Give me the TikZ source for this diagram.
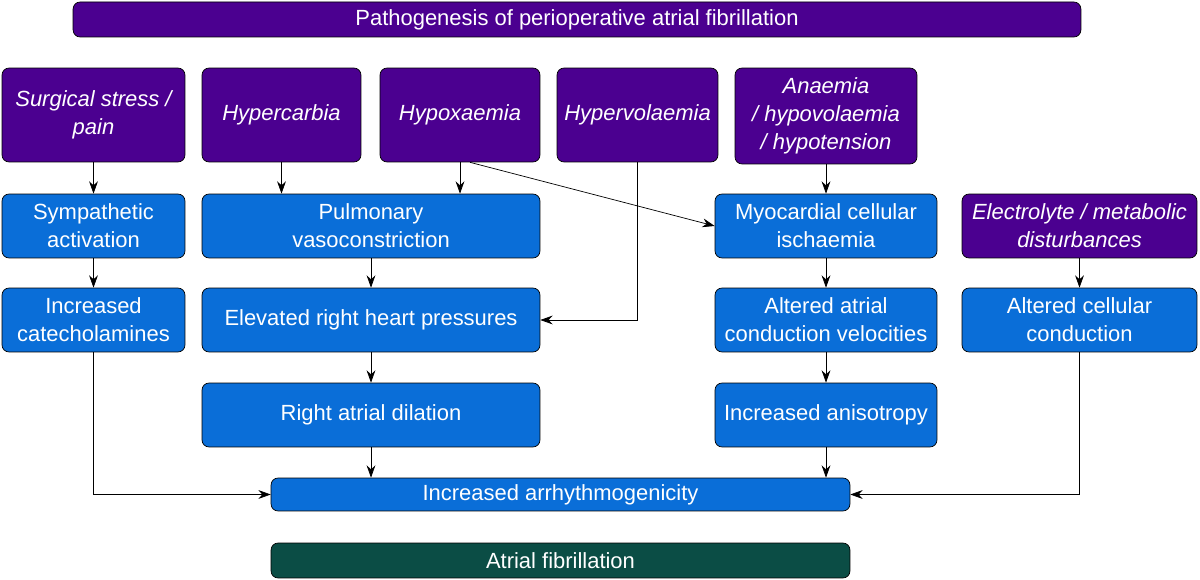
\documentclass[tikz,border=0pt]{standalone}
\usepackage{fontspec}
\setmainfont{Liberation Sans}
\usetikzlibrary{arrows.meta}
\definecolor{causecol}{HTML}{4B0090}
\definecolor{mechcol}{HTML}{0A6ED8}
\definecolor{outcol}{HTML}{0B4D45}
\tikzset{
  box/.style={rectangle, draw=black, rounded corners=4pt, text=white, align=center,
    inner sep=1pt, font=\fontsize{12.5}{16}\selectfont},
  cause/.style={box, fill=causecol, font=\fontsize{12.5}{16}\selectfont\itshape},
  mech/.style={box, fill=mechcol},
  line/.style={draw, -{Stealth[length=7pt,width=5pt]}, thin}
}
\begin{document}
\begin{tikzpicture}[x=0.02cm, y=-0.02cm]
  \useasboundingbox (0,0) rectangle (1200,580);
  % Title
  \node [box, fill=causecol, minimum width=20.16cm, minimum height=0.70cm] (title) at (577,19.5) {Pathogenesis of perioperative atrial fibrillation};
  % Causes
  \node [cause, minimum width=3.66cm, minimum height=1.88cm] (stress) at (93.5,115) {Surgical stress /\\pain};
  \node [cause, minimum width=3.18cm, minimum height=1.88cm] (hcarb) at (281.5,115) {Hypercarbia};
  \node [cause, minimum width=3.20cm, minimum height=1.88cm] (hox) at (460,115) {Hypoxaemia};
  \node [cause, minimum width=3.22cm, minimum height=1.88cm] (hvol) at (637.5,115) {Hypervolaemia};
  \node [cause, minimum width=3.64cm, minimum height=1.92cm] (anaem) at (826,116) {Anaemia\\/ hypovolaemia\\/ hypotension};
  \node [cause, minimum width=4.70cm, minimum height=1.28cm] (elec) at (1079.5,226) {Electrolyte / metabolic\\disturbances};
  % Mechanisms
  \node [mech, minimum width=3.66cm, minimum height=1.28cm] (symp) at (93.5,226) {Sympathetic\\activation};
  \node [mech, minimum width=6.76cm, minimum height=1.28cm] (pulm) at (371,226) {Pulmonary\\vasoconstriction};
  \node [mech, minimum width=4.44cm, minimum height=1.28cm] (myo) at (826,226) {Myocardial cellular\\ischaemia};
  \node [mech, minimum width=3.66cm, minimum height=1.28cm] (cat) at (93.5,320) {Increased\\catecholamines};
  \node [mech, minimum width=6.76cm, minimum height=1.28cm] (press) at (371,320) {Elevated right heart pressures};
  \node [mech, minimum width=4.44cm, minimum height=1.28cm] (vel) at (826,320) {Altered atrial\\conduction velocities};
  \node [mech, minimum width=4.70cm, minimum height=1.28cm] (cell) at (1079.5,320) {Altered cellular\\conduction};
  \node [mech, minimum width=6.76cm, minimum height=1.28cm] (dil) at (371,415) {Right atrial dilation};
  \node [mech, minimum width=4.44cm, minimum height=1.28cm] (aniso) at (826,415) {Increased anisotropy};
  % Outcomes
  \node [mech, minimum width=11.58cm, minimum height=0.66cm] (arrh) at (560.5,494.5) {Increased arrhythmogenicity};
  \node [box, fill=outcol, minimum width=11.58cm, minimum height=0.70cm] (af) at (560.5,560.5) {Atrial fibrillation};
  % Draw edges
  \path [line] (stress) -- (symp);
  \path [line] (symp) -- (cat);
  \path [line] (hcarb) -- (hcarb |- pulm.north);
  \path [line] (hox) -- (hox |- pulm.north);
  \coordinate (hoxs) at ([xshift=0.2cm]hox.south);
  \path [line] (hoxs) -- (myo.west);
  \path [line] (hvol.south) |- (press.east);
  \path [line] (pulm) -- (press);
  \path [line] (press) -- (dil);
  \path [line] (anaem) -- (myo);
  \path [line] (myo) -- (vel);
  \path [line] (vel) -- (aniso);
  \path [line] (elec) -- (cell);
  \path [line] (cat.south) |- (arrh.west);
  \path [line] (dil) -- (dil |- arrh.north);
  \path [line] (aniso) -- (aniso |- arrh.north);
  \path [line] (cell.south) |- (arrh.east);
\end{tikzpicture}
\end{document}
